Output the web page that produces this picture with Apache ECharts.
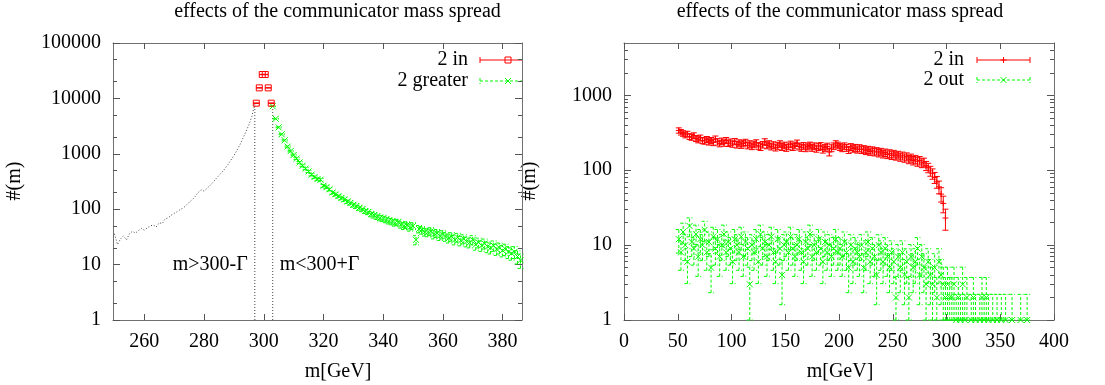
<!DOCTYPE html>
<html><head><meta charset="utf-8">
<script src="https://cdn.jsdelivr.net/npm/echarts@6/dist/echarts.min.js"></script>
<style>html,body{margin:0;padding:0;background:#fff}#c{width:1105px;height:385px}</style>
</head><body><div id="c"></div>
<script>
// ---------------- data ----------------
const titleText = 'effects of the communicator mass spread';
const xName = 'm[GeV]';
const yName = '#(m)';

const leftTicksX = [260, 280, 300, 320, 340, 360, 380];
const leftTicksY = [1, 10, 100, 1000, 10000, 100000];
const leftMinorY = [2, 5, 20, 50, 200, 500, 2000, 5000, 20000, 50000];
const rightTicksX = [0, 50, 100, 150, 200, 250, 300, 350, 400];
const rightTicksY = [1, 10, 100, 1000];
const rightMinorY = [2, 3, 4, 5, 6, 7, 8, 9, 20, 30, 40, 50, 60, 70, 80, 90,
  200, 300, 400, 500, 600, 700, 800, 900, 2000, 3000, 4000];

// left panel: full distribution below the window (1 GeV bins starting at 250)
const allMassStart = 250;
const allMassValues = [36, 23, 29, 33, 28, 36, 40, 37, 41, 45,
  42, 46, 50, 52, 48, 57, 55, 67, 70, 78,
  84, 90, 99, 105, 117, 133, 148, 168, 200, 224,
  212, 238, 268, 305, 355, 405, 465, 540, 640, 770,
  930, 1150, 1450, 1900, 2500, 3300, 4700, 7800];
const peakMass = 300;
const gamma = 3;
const gammaLabels = ['m>300-\u0393', 'm<300+\u0393'];
// "2 in"
const inMass = [297.5, 298.5, 299.5, 300.5, 301.5, 302.5];
const inValues = [8200, 15500, 27000, 27000, 15500, 8200];
// "2 greater" (1 GeV bins starting at 303)
const greaterStart = 303;
const greaterValues = [7200, 4300, 3000, 2250, 1750, 1350, 1120, 950, 820, 700,
  610, 540, 480, 420, 380, 350, 340, 265, 250, 228,
  200, 186, 172, 160, 150, 138, 130, 120, 114, 106,
  100, 93, 89, 82, 78, 74, 70, 68, 65, 62,
  60, 57, 58, 53, 50, 52, 47, 50, 28, 44,
  42, 39, 38, 40, 35, 37, 33, 35, 32, 30,
  32, 28, 31, 27, 29, 26, 25, 28, 23, 25,
  22, 24, 21, 20, 22, 19, 20, 18, 19, 17,
  16, 17, 14, 12];

// right panel (2 GeV bins, first centre 51)
const rightBinStart = 51;
const rightBinWidth = 2;
const in2Values = [340, 322, 310, 296, 305, 282, 276, 290, 266, 256,
  270, 250, 246, 258, 240, 250, 236, 262, 240, 228,
  245, 232, 250, 230, 238, 225, 242, 220, 232, 218,
  228, 236, 215, 225, 210, 222, 232, 212, 205, 220,
  240, 215, 225, 208, 218, 202, 212, 225, 205, 215,
  200, 210, 222, 205, 215, 230, 208, 200, 212, 198,
  208, 215, 200, 210, 195, 205, 212, 190, 200, 208,
  175, 198, 210, 225, 215, 205, 198, 210, 200, 188,
  205, 195, 200, 190, 198, 188, 192, 182, 188, 178,
  185, 175, 180, 170, 176, 165, 172, 162, 168, 158,
  165, 155, 160, 150, 156, 146, 152, 140, 146, 135,
  140, 130, 135, 125, 128, 115, 108, 98, 90, 80,
  70, 60, 48, 36, 23];
const out2Values = [12, 8, 15, 10, 6, 18, 11, 9, 14, 7, 12, 10, 16, 8, 11, 5, 13, 9, 12, 7, 10, 14, 8, 11, 9,
  6, 12, 10, 8, 13, 7, 11, 9, 3, 10, 8, 12, 6, 14, 9, 11, 7, 10, 13, 8, 6, 12, 9, 4, 10,
  11, 8, 13, 9, 7, 10, 12, 8, 6, 11, 9, 14, 7, 10, 8, 12, 9, 6, 11, 8, 10, 7, 9, 12, 8,
  9, 7, 11, 8, 5, 10, 6, 9, 8, 7, 10, 5, 8, 11, 6, 9, 7, 4, 10, 8, 6, 9, 7, 5, 8,
  6, 2, 7, 5, 8, 4, 6, 2, 7, 5, 6, 9, 4, 7, 5, 3, 6, 4, 3, 5, 2, 6, 4, 3, 2,
  3, 2, 2, 3, 1, 2, 1, 3, 1, 2, null, 1, 2, 1, null, 1, 2, 1, 2, 1,
  null, 1, null, 1, null, 1, null, 1, null, null, 1, null, null, null, 1, null, null, 1];

// ---------------- styling / helpers ----------------
const FS = 20;
const FONT_CSS = FS + 'px "Liberation Serif", "Times New Roman", serif';
const RED = '#ff0000', GREEN = '#00ff00';
const FRAME = '#707070', TICK = '#555555';
const L = {xMin: 249.5, xMax: 386.5, yMin: 1, yMax: 100000};
const R = {xMin: 0, xMax: 400, yMin: 1, yMax: 5000};

function errData(xs, ys, k, yMin, yMax) {
  const out = [];
  for (let i = 0; i < ys.length; i++) {
    const y = ys[i];
    if (y == null) continue;
    const e = k * Math.sqrt(y);
    out.push([xs[i], y, Math.max(y - e, yMin), Math.min(y + e, yMax)]);
  }
  return out;
}
function seq(start, step, n) { const a = []; for (let i = 0; i < n; i++) a.push(start + i * step); return a; }

function markerShapes(marker, cx, cy, color) {
  const m = 3, st = {stroke: color, lineWidth: 1, fill: null};
  if (marker === 'square') return [{type: 'rect', shape: {x: cx - m, y: cy - m, width: 2 * m, height: 2 * m}, style: st}];
  if (marker === 'plus') return [
    {type: 'line', shape: {x1: cx - m, y1: cy, x2: cx + m, y2: cy}, style: st},
    {type: 'line', shape: {x1: cx, y1: cy - m, x2: cx, y2: cy + m}, style: st}];
  return [
    {type: 'line', shape: {x1: cx - m, y1: cy - m, x2: cx + m, y2: cy + m}, style: st},
    {type: 'line', shape: {x1: cx - m, y1: cy + m, x2: cx + m, y2: cy - m}, style: st}];
}

function errRender(color, marker, dashed) {
  return function (params, api) {
    const x = api.value(0), y = api.value(1), lo = api.value(2), hi = api.value(3);
    const p = api.coord([x, y]), a = api.coord([x, lo]), b = api.coord([x, hi]);
    const st = {stroke: color, lineWidth: 1, lineDash: dashed ? [3, 2] : null, fill: null};
    const c = 3;
    const kids = [
      {type: 'line', shape: {x1: a[0], y1: a[1], x2: b[0], y2: b[1]}, style: st},
      {type: 'line', shape: {x1: a[0] - c, y1: a[1], x2: a[0] + c, y2: a[1]}, style: st},
      {type: 'line', shape: {x1: b[0] - c, y1: b[1], x2: b[0] + c, y2: b[1]}, style: st}
    ].concat(markerShapes(marker, p[0], p[1], color));
    return {type: 'group', children: kids};
  };
}

// tick labels drawn through the axes' own scales (custom series), so the serif font is honoured
function tickLabelSeries(xi, yi, pts, kind) {
  return {
    type: 'custom', xAxisIndex: xi, yAxisIndex: yi, coordinateSystem: 'cartesian2d', clip: false,
    silent: true, z: 10, data: pts,
    renderItem: function (params, api) {
      const v = kind === 'x' ? api.value(0) : api.value(1);
      const p = api.coord([api.value(0), api.value(1)]);
      return {type: 'text', x: kind === 'x' ? p[0] : p[0] - 12, y: kind === 'x' ? p[1] + 12 : p[1],
        style: {text: String(Math.round(v)), align: kind === 'x' ? 'center' : 'right',
          verticalAlign: kind === 'x' ? 'top' : 'middle', font: FONT_CSS, fill: '#000'}};
    }
  };
}

function xAxisDef(grid, pos, lim, ticks) {
  return {
    type: 'value', gridIndex: grid, position: pos, min: lim.xMin, max: lim.xMax,
    axisLine: {show: true, onZero: false, lineStyle: {color: FRAME, width: 1}},
    axisTick: {show: true, inside: true, length: 6, customValues: ticks, lineStyle: {color: TICK}},
    axisLabel: {show: false, customValues: ticks},
    splitLine: {show: false}
  };
}
function yAxisDef(grid, pos, lim, ticks, len, showLine) {
  return {
    type: 'log', logBase: 10, gridIndex: grid, position: pos, min: lim.yMin, max: lim.yMax,
    axisLine: {show: showLine, lineStyle: {color: FRAME, width: 1}},
    axisTick: {show: true, inside: true, length: len, customValues: ticks, lineStyle: {color: TICK}},
    axisLabel: {show: false, customValues: ticks},
    splitLine: {show: false}, minorTick: {show: false}
  };
}

// ---------------- series ----------------
const allMassX = seq(allMassStart, 1, allMassValues.length);
const greaterX = seq(greaterStart, 1, greaterValues.length);
const in2X = seq(rightBinStart, rightBinWidth, in2Values.length);
const out2X = seq(rightBinStart, rightBinWidth, out2Values.length);

const labelLevel = 10;
const dotted = {color: '#444', width: 1, type: [1, 2]};
const series = [
  {type: 'line', xAxisIndex: 0, yAxisIndex: 0, data: allMassX.map((x, i) => [x, allMassValues[i]]),
    symbol: 'none', lineStyle: dotted, silent: true, z: 2},
  {type: 'line', xAxisIndex: 0, yAxisIndex: 0, data: [[peakMass - gamma, L.yMin], [peakMass - gamma, inValues[0]]],
    symbol: 'none', lineStyle: dotted, silent: true, z: 2},
  {type: 'line', xAxisIndex: 0, yAxisIndex: 0, data: [[peakMass + gamma, L.yMin], [peakMass + gamma, inValues[inValues.length - 1]]],
    symbol: 'none', lineStyle: dotted, silent: true, z: 2},
  {type: 'custom', xAxisIndex: 0, yAxisIndex: 0, coordinateSystem: 'cartesian2d',
    data: [[peakMass - gamma, labelLevel, -1], [peakMass + gamma, labelLevel, 1]],
    renderItem: function (params, api) {
      const p = api.coord([api.value(0), api.value(1)]);
      const dir = api.value(2);
      return {type: 'text', x: p[0] + dir * 7, y: p[1],
        style: {text: gammaLabels[params.dataIndex], align: dir < 0 ? 'right' : 'left', verticalAlign: 'middle',
          font: FONT_CSS, fill: '#000'}};
    }, silent: true, z: 3},
  {type: 'custom', xAxisIndex: 0, yAxisIndex: 0, coordinateSystem: 'cartesian2d',
    data: errData(greaterX, greaterValues, 1.0, L.yMin, L.yMax),
    renderItem: errRender(GREEN, 'x', true), silent: true, z: 4},
  {type: 'custom', xAxisIndex: 0, yAxisIndex: 0, coordinateSystem: 'cartesian2d',
    data: errData(inMass, inValues, 1.0, L.yMin, L.yMax),
    renderItem: errRender(RED, 'square', false), silent: true, z: 5},
  {type: 'custom', xAxisIndex: 2, yAxisIndex: 4, coordinateSystem: 'cartesian2d',
    data: errData(out2X, out2Values, 1.2, R.yMin, R.yMax),
    renderItem: errRender(GREEN, 'x', true), silent: true, z: 4},
  {type: 'custom', xAxisIndex: 2, yAxisIndex: 4, coordinateSystem: 'cartesian2d',
    data: errData(in2X, in2Values, 1.5, R.yMin, R.yMax),
    renderItem: errRender(RED, 'plus', false), silent: true, z: 5},
  tickLabelSeries(0, 0, leftTicksX.map(v => [v, L.yMin]), 'x'),
  tickLabelSeries(0, 0, leftTicksY.map(v => [L.xMin, v]), 'y'),
  tickLabelSeries(2, 4, rightTicksX.map(v => [v, R.yMin]), 'x'),
  tickLabelSeries(2, 4, rightTicksY.map(v => [R.xMin, v]), 'y')
];

// ---------------- legend / titles / axis names as graphics ----------------
function legendEntry(text, y, textRight, x1, x2, xm, color, marker, dashed, rightCap) {
  const st = {stroke: color, lineWidth: 1, lineDash: dashed ? [3, 2] : null, fill: null};
  const kids = [
    {type: 'text', x: textRight, y: y, style: {text: text, align: 'right', verticalAlign: 'middle',
      font: FONT_CSS, fill: '#000'}},
    {type: 'line', shape: {x1: x1, y1: y, x2: x2, y2: y}, style: st},
    {type: 'line', shape: {x1: x1, y1: y - 3, x2: x1, y2: y + 3}, style: st}
  ];
  if (rightCap) kids.push({type: 'line', shape: {x1: x2, y1: y - 3, x2: x2, y2: y + 3}, style: st});
  return kids.concat(markerShapes(marker, xm, y, color));
}
function txt(text, x, y, align, vAlign, rot) {
  return {type: 'text', x: x, y: y, rotation: rot || 0,
    style: {text: text, align: align, verticalAlign: vAlign, font: FONT_CSS, fill: '#000'}};
}

const graphics = [
  txt(titleText, 337.5, 2, 'center', 'top'),
  txt(titleText, 840, 2, 'center', 'top'),
  txt(xName, 338, 362, 'center', 'top'),
  txt(xName, 840, 362, 'center', 'top'),
  txt(yName, 15, 181, 'center', 'middle', Math.PI / 2),
  txt(yName, 530, 181, 'center', 'middle', Math.PI / 2)
].concat(
  legendEntry('2 in', 60, 468, 480, 522, 508, RED, 'square', false, false),
  legendEntry('2 greater', 81, 468, 480, 522, 508, GREEN, 'x', true, false),
  legendEntry('2 in', 60, 964, 977, 1030, 1003.5, RED, 'plus', false, true),
  legendEntry('2 out', 80, 964, 977, 1030, 1003.5, GREEN, 'x', true, true)
);

const option = {
  animation: false,
  backgroundColor: '#fff',
  grid: [
    {left: 113, top: 43, width: 409, height: 277, containLabel: false},
    {left: 624, top: 43, width: 430, height: 277, containLabel: false}
  ],
  xAxis: [
    xAxisDef(0, 'bottom', L, leftTicksX),
    xAxisDef(0, 'top', L, leftTicksX),
    xAxisDef(1, 'bottom', R, rightTicksX),
    xAxisDef(1, 'top', R, rightTicksX)
  ],
  yAxis: [
    yAxisDef(0, 'left', L, leftTicksY, 7, true),
    yAxisDef(0, 'left', L, leftMinorY, 4, false),
    yAxisDef(0, 'right', L, leftTicksY, 7, true),
    yAxisDef(0, 'right', L, leftMinorY, 4, false),
    yAxisDef(1, 'left', R, rightTicksY, 7, true),
    yAxisDef(1, 'left', R, rightMinorY, 4, false),
    yAxisDef(1, 'right', R, rightTicksY, 7, true),
    yAxisDef(1, 'right', R, rightMinorY, 4, false)
  ],
  series: series,
  graphic: graphics
};

const chart = echarts.init(document.getElementById('c'));
chart.setOption(option);
</script>
</body></html>
